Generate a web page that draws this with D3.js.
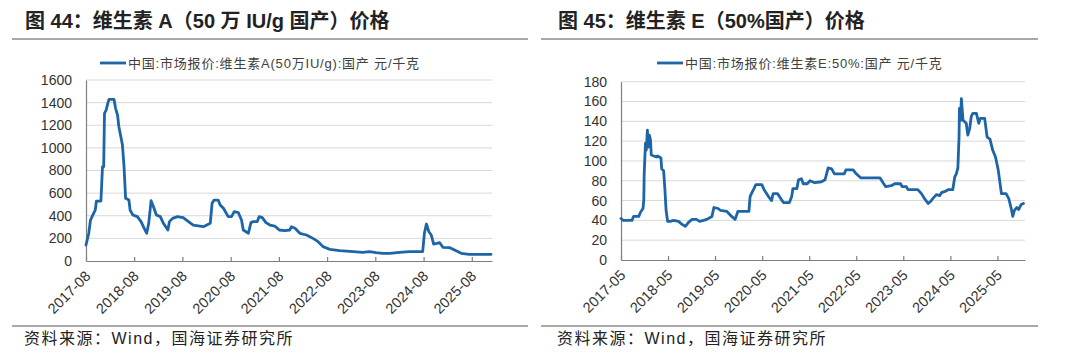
<!DOCTYPE html>
<html><head><meta charset="utf-8">
<script src="https://cdn.jsdelivr.net/npm/d3@7"></script>
<style>
html,body{margin:0;padding:0;background:#fff;}
svg{display:block;}
text{font-family:"Liberation Sans","Noto Sans CJK SC",sans-serif;}
</style></head><body>
<svg id="c" width="1080" height="358"></svg>
<script>
// ---------- Chart A: Vitamin A ----------
const titleA = "图 44：维生素 A（50 万 IU/g 国产）价格";
const legendA = "中国:市场报价:维生素A(50万IU/g):国产 元/千克";
const yTicksA = [0, 200, 400, 600, 800, 1000, 1200, 1400, 1600];
const xTicksA = ["2017-08","2018-08","2019-08","2020-08","2021-08","2022-08","2023-08","2024-08","2025-08"];
const datesA = ["2017-08-01","2017-08-22","2017-09-04","2017-09-22","2017-10-10","2017-10-19","2017-11-22","2017-12-04","2017-12-13","2017-12-19",
"2018-01-01","2018-01-13","2018-01-22","2018-03-01","2018-03-13","2018-03-28","2018-04-07","2018-04-22","2018-05-04","2018-05-16",
"2018-05-28","2018-06-22","2018-07-01","2018-07-22","2018-08-25","2018-09-22","2018-10-16","2018-11-04","2018-11-19","2018-12-07",
"2018-12-25","2019-01-16","2019-02-15","2019-03-10","2019-04-13","2019-04-25","2019-05-19","2019-06-25","2019-08-07","2019-09-16",
"2019-10-22","2020-01-07","2020-02-28","2020-03-13","2020-03-28","2020-04-28","2020-05-13","2020-06-07","2020-07-13","2020-08-07",
"2020-08-28","2020-09-28","2020-10-22","2020-11-04","2020-12-13","2021-01-01","2021-01-19","2021-02-18","2021-03-04","2021-03-28",
"2021-04-25","2021-05-25","2021-07-01","2021-08-04","2021-09-16","2021-10-22","2021-11-04","2021-12-01","2022-01-07","2022-02-26",
"2022-04-16","2022-05-25","2022-07-01","2022-08-22","2022-11-04","2023-02-16","2023-04-28","2023-06-19","2023-08-07","2023-09-28",
"2023-11-19","2024-02-01","2024-04-16","2024-07-25","2024-08-07","2024-08-22","2024-09-10","2024-09-28","2024-10-16","2024-11-10",
"2024-12-01","2024-12-25","2025-02-16","2025-04-04","2025-05-13","2025-07-13","2025-12-25"];
const valuesA = [141,245,362,407,450,530,530,834,834,1305,
1335,1394,1429,1429,1350,1290,1187,1099,1025,834,
554,539,450,407,392,348,289,245,333,533,
480,407,392,333,274,348,377,392,383,348,
318,303,333,510,539,539,495,466,392,392,
436,427,362,274,245,339,348,348,392,383,
339,318,309,274,268,274,303,289,245,230,
200,171,127,103,91,82,77,82,74,68,
68,77,82,82,245,327,259,230,150,156,
162,121,118,91,68,59,59];

// ---------- Chart E: Vitamin E ----------
const titleE = "图 45：维生素 E（50%国产）价格";
const legendE = "中国:市场报价:维生素E:50%:国产 元/千克";
const yTicksE = [0, 20, 40, 60, 80, 100, 120, 140, 160, 180];
const xTicksE = ["2017-05","2018-05","2019-05","2020-05","2021-05","2022-05","2023-05","2024-05","2025-05"];
const datesE = ["2017-05-01","2017-05-16","2017-07-25","2017-08-07","2017-09-16","2017-09-28","2017-10-19","2017-10-25","2017-10-28","2017-11-07",
"2017-11-13","2017-11-22","2017-11-29","2017-12-07","2017-12-16","2017-12-22","2018-02-01","2018-02-09","2018-03-07","2018-03-13",
"2018-03-28","2018-04-07","2018-04-16","2018-04-28","2018-05-19","2018-06-13","2018-07-22","2018-08-16","2018-09-13","2018-10-07",
"2018-11-04","2018-12-07","2019-01-01","2019-02-01","2019-02-26","2019-04-07","2019-04-22","2019-05-25","2019-06-13","2019-08-01",
"2019-09-07","2019-10-04","2019-10-25","2019-11-25","2020-01-19","2020-01-28","2020-02-15","2020-02-27","2020-03-13","2020-04-28",
"2020-05-16","2020-06-19","2020-07-13","2020-07-25","2020-08-28","2020-09-22","2020-10-13","2020-11-28","2020-12-16","2020-12-25",
"2021-01-25","2021-02-07","2021-03-01","2021-03-16","2021-04-16","2021-05-07","2021-06-13","2021-08-04","2021-09-01","2021-09-25",
"2021-10-22","2021-11-13","2021-12-13","2022-01-28","2022-02-10","2022-04-07","2022-05-01","2022-06-04","2022-11-01","2022-11-25",
"2022-12-16","2023-01-28","2023-02-24","2023-04-10","2023-04-22","2023-05-25","2023-06-07","2023-08-22","2023-09-19","2023-10-13",
"2023-11-10","2023-11-28","2023-12-16","2024-01-13","2024-02-07","2024-02-22","2024-03-16","2024-04-13","2024-05-19","2024-06-04",
"2024-06-16","2024-06-28","2024-07-07","2024-07-10","2024-07-19","2024-07-25","2024-08-07","2024-09-01","2024-09-13","2024-09-28",
"2024-10-10","2024-10-22","2024-11-19","2024-12-07","2024-12-19","2025-01-22","2025-02-10","2025-03-04","2025-03-25","2025-04-16",
"2025-05-07","2025-06-01","2025-07-07","2025-07-28","2025-08-16","2025-08-28","2025-09-10","2025-09-28","2025-10-13","2025-11-01",
"2025-11-19"];
const valuesE = [42,40,40,44,44,48,52,61,87,118,
111,131,114,126,121,106,104,105,103,92,
90,71,50,39,39,40,39,36,34,38,
41,41,39,40,41,44,53,52,50,49,
44,41,49,49,49,64,69,72,76,76,
71,64,60,67,67,62,58,58,64,72,
72,81,82,77,77,80,78,79,81,93,
92,87,87,87,91,91,87,83,83,78,
74,75,77,77,74,74,71,71,67,62,
57,59,62,66,65,68,69,71,71,84,
87,93,124,153,141,163,141,138,126,133,
145,148,148,138,143,143,124,122,111,104,
91,67,67,62,52,44,50,53,51,56,
57];

const sourceText = "资料来源：Wind，国海证券研究所";

const svg = d3.select("#c");
const parse = d3.timeParse("%Y-%m-%d");
const parseM = d3.timeParse("%Y-%m");
const LINE = "#1d65a6";

function drawPanel(o) {
  const g = svg.append("g");
  g.append("text").attr("x", o.titleX).attr("y", 28)
    .attr("font-size", 20).attr("font-weight", "bold").attr("fill", "#222")
    .text(o.title);
  g.append("line").attr("x1", o.ruleX0).attr("x2", o.ruleX1).attr("y1", 39).attr("y2", 39)
    .attr("stroke", "#8c8c8c").attr("stroke-width", 1.6);
  g.append("line").attr("x1", o.ruleX0).attr("x2", o.ruleX1).attr("y1", 326).attr("y2", 326)
    .attr("stroke", "#8c8c8c").attr("stroke-width", 1.6);
  g.append("text").attr("x", o.srcX).attr("y", 344).attr("font-size", 16)
    .attr("letter-spacing", "1.5px").attr("fill", "#222").text(sourceText);

  const x = d3.scaleTime().domain([parse(o.domain[0]), parse(o.domain[1])]).range([o.x0, o.x1]);
  const y = d3.scaleLinear().domain([0, o.yTicks[o.yTicks.length - 1]]).range([o.yB, o.yT]);

  g.append("g").selectAll("line").data(o.yTicks.slice(1)).join("line")
    .attr("x1", o.x0).attr("x2", o.x1).attr("y1", d => y(d)).attr("y2", d => y(d))
    .attr("stroke", "#d9d9d9").attr("stroke-width", 1);

  const ya = g.append("g").attr("transform", `translate(${o.x0},0)`)
    .call(d3.axisLeft(y).tickValues(o.yTicks).tickSize(0).tickPadding(14).tickFormat(d3.format("d")));
  ya.select(".domain").attr("stroke", "#7f7f7f").attr("stroke-width", 1.2);
  ya.selectAll("text").attr("font-size", 14).attr("fill", "#333")
    .attr("font-family", '"Liberation Sans", Arial, sans-serif');

  const tv = o.xTicks.map(parseM);
  const xa = g.append("g").attr("transform", `translate(0,${o.yB})`)
    .call(d3.axisBottom(x).tickValues(tv).tickSize(-4).tickSizeOuter(0).tickFormat(d3.timeFormat("%Y-%m")));
  xa.select(".domain").attr("stroke", "#7f7f7f").attr("stroke-width", 1.2);
  xa.selectAll(".tick line").attr("stroke", "#7f7f7f").attr("stroke-width", 1.2);
  xa.selectAll("text").attr("font-size", 14.5).attr("fill", "#333")
    .attr("font-family", '"Liberation Sans", Arial, sans-serif')
    .attr("text-anchor", "end").attr("dy", null).attr("y", null)
    .attr("transform", "translate(5,16) rotate(-45)");

  const data = o.dates.map((d, i) => ({ d: parse(d), v: o.values[i] }));
  g.append("path").datum(data)
    .attr("fill", "none").attr("stroke", LINE).attr("stroke-width", 2.8)
    .attr("stroke-linejoin", "round").attr("stroke-linecap", "round")
    .attr("d", d3.line().x(d => x(d.d)).y(d => y(d.v)));

  g.append("line").attr("x1", o.legX).attr("x2", o.legX + 26).attr("y1", 63).attr("y2", 63)
    .attr("stroke", LINE).attr("stroke-width", 2.8);
  g.append("text").attr("x", o.legX + 28).attr("y", 67.5).attr("font-size", 13)
    .attr("letter-spacing", "0.8px").attr("fill", "#404040").text(o.legend);
}

drawPanel({
  title: titleA, titleX: 25, ruleX0: 12, ruleX1: 528, srcX: 24,
  domain: ["2017-08-01", "2026-01-01"], x0: 86, x1: 492, yT: 80, yB: 261,
  yTicks: yTicksA, xTicks: xTicksA, dates: datesA, values: valuesA,
  legend: legendA, legX: 100
});
drawPanel({
  title: titleE, titleX: 558, ruleX0: 541, ruleX1: 1038, srcX: 557,
  domain: ["2017-05-01", "2025-12-01"], x0: 621, x1: 1025, yT: 81.7, yB: 260,
  yTicks: yTicksE, xTicks: xTicksE, dates: datesE, values: valuesE,
  legend: legendE, legX: 657
});
</script>
</body></html>
